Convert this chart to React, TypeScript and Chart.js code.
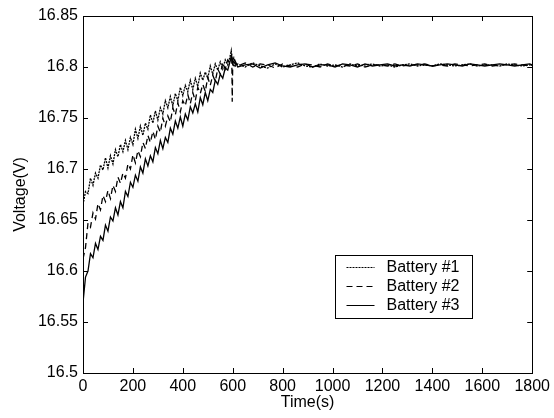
import React, { useEffect, useRef } from "react";
import { Chart, registerables } from "chart.js";

Chart.register(...registerables);

const seriesLabels = ["Battery #1", "Battery #2", "Battery #3"];

const xTickValues = [0, 200, 400, 600, 800, 1000, 1200, 1400, 1600, 1800];
const yTickValues = [16.5, 16.55, 16.6, 16.65, 16.7, 16.75, 16.8, 16.85];

const rampTimes = [
  0, 10, 20, 30, 40, 50, 60, 70, 80, 90,
  100, 110, 120, 130, 140, 150, 160, 170, 180, 190,
  200, 210, 220, 230, 240, 250, 260, 270, 280, 290,
  300, 310, 320, 330, 340, 350, 360, 370, 380, 390,
  400, 410, 420, 430, 440, 450, 460, 470, 480, 490,
  500, 510, 520, 530, 540, 550, 560, 570, 580, 590,
];

const battery1Ramp = [
  16.665, 16.678, 16.676, 16.691, 16.684, 16.696, 16.691, 16.704, 16.699, 16.711,
  16.701, 16.713, 16.705, 16.719, 16.712, 16.724, 16.717, 16.728, 16.719, 16.731,
  16.724, 16.739, 16.73, 16.742, 16.733, 16.745, 16.739, 16.753, 16.745, 16.757,
  16.748, 16.76, 16.754, 16.767, 16.76, 16.771, 16.762, 16.774, 16.767, 16.78,
  16.772, 16.782, 16.776, 16.787, 16.778, 16.789, 16.781, 16.794, 16.787, 16.795,
  16.789, 16.801, 16.793, 16.803, 16.797, 16.805, 16.798, 16.807, 16.802, 16.811,
];

const battery2Ramp = [
  16.612, 16.623, 16.647, 16.643, 16.657, 16.651, 16.666, 16.66, 16.674, 16.668,
  16.679, 16.671, 16.684, 16.678, 16.692, 16.686, 16.696, 16.691, 16.705, 16.7,
  16.714, 16.706, 16.718, 16.712, 16.726, 16.72, 16.733, 16.726, 16.737, 16.729,
  16.742, 16.736, 16.75, 16.742, 16.752, 16.746, 16.76, 16.753, 16.765, 16.756,
  16.767, 16.762, 16.773, 16.764, 16.775, 16.767, 16.78, 16.774, 16.783, 16.776,
  16.79, 16.782, 16.792, 16.786, 16.798, 16.793, 16.804, 16.798, 16.807, 16.804,
];

const battery3Ramp = [
  16.569, 16.594, 16.6, 16.617, 16.613, 16.627, 16.621, 16.634, 16.63, 16.645,
  16.639, 16.653, 16.649, 16.662, 16.655, 16.668, 16.662, 16.678, 16.673, 16.687,
  16.682, 16.694, 16.688, 16.702, 16.696, 16.71, 16.703, 16.713, 16.707, 16.721,
  16.715, 16.728, 16.72, 16.731, 16.726, 16.74, 16.734, 16.747, 16.74, 16.751,
  16.742, 16.754, 16.748, 16.761, 16.755, 16.764, 16.756, 16.77, 16.763, 16.775,
  16.767, 16.778, 16.775, 16.787, 16.783, 16.793, 16.789, 16.799, 16.797, 16.806,
];

const battery1PeakTimes = [594, 598, 604, 610];
const battery1Peak = [16.816, 16.806, 16.809, 16.801];
const battery2PeakTimes = [596, 598, 600, 606, 612];
const battery2Peak = [16.813, 16.766, 16.804, 16.799, 16.804];
const battery3PeakTimes = [595, 601, 608];
const battery3Peak = [16.811, 16.804, 16.807];

const flatTimes = [
  620, 650, 680, 710, 740, 770, 800, 830, 860, 890,
  920, 950, 980, 1010, 1040, 1070, 1100, 1130, 1160, 1190,
  1220, 1250, 1280, 1310, 1340, 1370, 1400, 1430, 1460, 1490,
  1520, 1550, 1580, 1610, 1640, 1670, 1700, 1730, 1760, 1790,
  1800,
];

const battery1Flat = [
  16.803, 16.8, 16.804, 16.801, 16.799, 16.803, 16.8, 16.802, 16.804, 16.801,
  16.8, 16.803, 16.801, 16.802, 16.8, 16.803, 16.801, 16.802, 16.803, 16.801,
  16.802, 16.8, 16.802, 16.803, 16.801, 16.802, 16.801, 16.803, 16.802, 16.801,
  16.802, 16.803, 16.801, 16.802, 16.802, 16.801, 16.803, 16.802, 16.801, 16.802,
  16.802,
];

const battery2Flat = [
  16.801, 16.804, 16.8, 16.803, 16.802, 16.799, 16.803, 16.801, 16.8, 16.803,
  16.802, 16.8, 16.803, 16.801, 16.802, 16.801, 16.803, 16.8, 16.802, 16.802,
  16.801, 16.803, 16.801, 16.802, 16.802, 16.803, 16.801, 16.802, 16.801, 16.803,
  16.802, 16.801, 16.802, 16.803, 16.801, 16.802, 16.802, 16.803, 16.802, 16.801,
  16.802,
];

const battery3Flat = [
  16.8, 16.802, 16.803, 16.799, 16.802, 16.804, 16.801, 16.8, 16.802, 16.803,
  16.8, 16.802, 16.802, 16.8, 16.803, 16.802, 16.8, 16.803, 16.801, 16.802,
  16.803, 16.801, 16.802, 16.801, 16.803, 16.802, 16.801, 16.802, 16.803, 16.802,
  16.801, 16.803, 16.802, 16.801, 16.802, 16.803, 16.802, 16.801, 16.802, 16.803,
  16.802,
];

function zip(times: number[], values: number[]) {
  return times.map((t, i) => ({ x: t, y: values[i] }));
}

function buildSeries(ramp: number[], peakT: number[], peak: number[], flat: number[]) {
  return [...zip(rampTimes, ramp), ...zip(peakT, peak), ...zip(flatTimes, flat)];
}

const FONT = "'Liberation Sans', Arial, Helvetica, sans-serif";

const framePlugin = {
  id: "matlabFrame",
  afterDatasetsDraw(chart: any) {
    const { ctx, chartArea } = chart;
    const { left, right, top, bottom } = chartArea;
    const xs = chart.scales.x;
    const ys = chart.scales.y;
    const tl = 5;
    ctx.save();
    ctx.strokeStyle = "#000";
    ctx.lineWidth = 1;
    ctx.setLineDash([]);
    ctx.beginPath();
    xTickValues.forEach((v) => {
      const px = Math.round(xs.getPixelForValue(v)) + 0.5;
      ctx.moveTo(px, bottom);
      ctx.lineTo(px, bottom - tl);
      ctx.moveTo(px, top);
      ctx.lineTo(px, top + tl);
    });
    yTickValues.forEach((v) => {
      const py = Math.round(ys.getPixelForValue(v)) + 0.5;
      ctx.moveTo(left, py);
      ctx.lineTo(left + tl, py);
      ctx.moveTo(right, py);
      ctx.lineTo(right - tl, py);
    });
    ctx.stroke();
    ctx.strokeRect(Math.round(left) + 0.5, Math.round(top) + 0.5, Math.round(right - left), Math.round(bottom - top));

    // legend box
    const bx = Math.round(right) - 197 + 0.5;
    const by = Math.round(top) + 239 + 0.5;
    const bw = 137;
    const bh = 63;
    ctx.fillStyle = "#fff";
    ctx.fillRect(bx, by, bw, bh);
    ctx.strokeRect(bx, by, bw, bh);
    ctx.font = `16px ${FONT}`;
    ctx.textBaseline = "middle";
    ctx.textAlign = "left";
    chart.data.datasets.forEach((ds: any, i: number) => {
      const ry = by + 12 + i * 19;
      ctx.beginPath();
      ctx.setLineDash(ds.borderDash || []);
      ctx.lineWidth = 1;
      ctx.moveTo(bx + 11, ry);
      ctx.lineTo(bx + 39, ry);
      ctx.stroke();
      ctx.setLineDash([]);
      ctx.fillStyle = "#000";
      ctx.fillText(ds.label, bx + 51, ry);
    });
    ctx.restore();
  },
};

export default function App() {
  const ref = useRef<HTMLCanvasElement | null>(null);
  useEffect(() => {
    if (!ref.current) return;
    const chart = new Chart(ref.current, {
      type: "line",
      data: {
        datasets: [
          {
            label: seriesLabels[0],
            data: buildSeries(battery1Ramp, battery1PeakTimes, battery1Peak, battery1Flat),
            borderColor: "#000",
            borderWidth: 1.3,
            borderDash: [2, 1],
            pointRadius: 0,
            tension: 0,
          },
          {
            label: seriesLabels[1],
            data: buildSeries(battery2Ramp, battery2PeakTimes, battery2Peak, battery2Flat),
            borderColor: "#000",
            borderWidth: 1.3,
            borderDash: [6, 4],
            pointRadius: 0,
            tension: 0,
          },
          {
            label: seriesLabels[2],
            data: buildSeries(battery3Ramp, battery3PeakTimes, battery3Peak, battery3Flat),
            borderColor: "#000",
            borderWidth: 1.3,
            pointRadius: 0,
            tension: 0,
          },
        ],
      },
      options: {
        animation: false,
        responsive: false,
        maintainAspectRatio: false,
        parsing: false,
        normalized: true,
        layout: { padding: { left: 0, right: 21, top: 16, bottom: 0 } },
        plugins: {
          legend: { display: false },
          tooltip: { enabled: false },
        },
        scales: {
          x: {
            type: "linear",
            min: 0,
            max: 1800,
            afterBuildTicks: (s: any) => {
              s.ticks = xTickValues.map((v) => ({ value: v }));
            },
            afterFit: (s: any) => {
              s.height = 45;
            },
            ticks: {
              color: "#000",
              font: { family: FONT, size: 16 },
              padding: 4,
              maxRotation: 0,
              autoSkip: false,
              callback: (v: any) => String(v),
            },
            grid: { display: false, drawTicks: false },
            border: { display: false },
            title: {
              display: true,
              text: "Time(s)",
              color: "#000",
              font: { family: FONT, size: 16 },
              padding: { top: 0, bottom: 6 },
            },
          },
          y: {
            type: "linear",
            min: 16.5,
            max: 16.85,
            afterBuildTicks: (s: any) => {
              s.ticks = yTickValues.map((v) => ({ value: v }));
            },
            afterFit: (s: any) => {
              s.width = 83;
            },
            ticks: {
              color: "#000",
              font: { family: FONT, size: 16 },
              padding: 5,
              autoSkip: false,
              callback: (v: any) => String(Number(Number(v).toFixed(2))),
            },
            grid: { display: false, drawTicks: false },
            border: { display: false },
            title: {
              display: true,
              text: "Voltage(V)",
              color: "#000",
              font: { family: FONT, size: 16 },
              padding: { top: 11, bottom: 0 },
            },
          },
        },
      },
      plugins: [framePlugin],
    });
    return () => chart.destroy();
  }, []);
  return (
    <div style={{ position: "absolute", left: 0, top: 0, width: 554, height: 418, background: "#fff" }}>
      <canvas ref={ref} width={554} height={418} />
    </div>
  );
}
